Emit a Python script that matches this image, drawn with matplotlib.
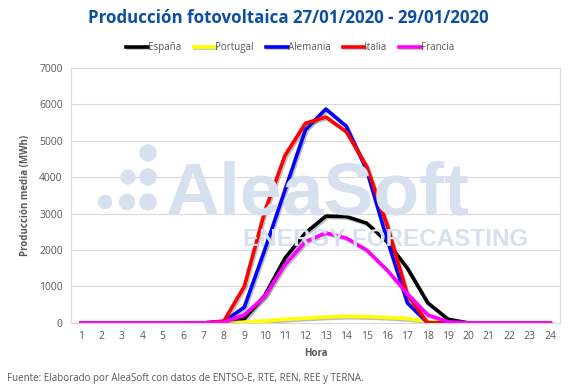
import matplotlib.pyplot as plt
import matplotlib.patheffects as pe
from matplotlib.patches import Circle
import numpy as np

plt.rcParams['font.family'] = ['Open Sans', 'DejaVu Sans']

horas = list(range(1, 25))
espana = [0, 0, 0, 0, 0, 0, 0, 0, 110, 750, 1780, 2470, 2930, 2920, 2740, 2230, 1500, 550, 100, 0, 0, 0, 0, 0]
portugal = [0, 0, 0, 0, 0, 0, 0, 0, 20, 50, 100, 130, 160, 180, 170, 150, 120, 40, 0, 0, 0, 0, 0, 0]
alemania = [0, 0, 0, 0, 0, 0, 0, 40, 430, 2000, 3650, 5300, 5870, 5400, 4200, 2300, 550, 0, 0, 0, 0, 0, 0, 0]
italia = [0, 0, 0, 0, 0, 0, 0, 50, 1000, 3050, 4600, 5480, 5650, 5250, 4300, 2700, 770, 0, 0, 0, 0, 0, 0, 0]
francia = [0, 0, 0, 0, 0, 0, 0, 20, 220, 720, 1600, 2230, 2470, 2330, 2000, 1450, 800, 220, 30, 0, 0, 0, 0, 0]

series = [("España", espana, "black"),
          ("Portugal", portugal, "#FFFF00"),
          ("Alemania", alemania, "#0000FF"),
          ("Italia", italia, "#FF0000"),
          ("Francia", francia, "#FF00FF")]

grey = "#595959"
marca = "#D6E0EE"
fig = plt.figure(figsize=(5.77, 3.9), dpi=100)
ax = fig.add_axes([0.123, 0.172, 0.848, 0.654])

# marca de agua (logo de puntos + texto)
fig.text(0.287, 0.449, "AleaSoft", fontsize=54, fontweight="bold", color=marca,
         family="Liberation Sans", ha="left", va="baseline", zorder=0)
fig.text(0.421, 0.369, "ENERGY FORECASTING", fontsize=17.5, fontweight="bold", color=marca,
         family="Liberation Sans", ha="left", va="baseline", zorder=0)
for (px, py, r) in [(148, 153, 8), (128, 177, 7), (148, 177, 8),
                    (105, 202, 6.5), (127, 202, 7.5), (148, 202, 8)]:
    fig.patches.append(Circle((px / 100, (390 - py) / 100), r / 100,
                              transform=fig.dpi_scale_trans, color=marca, zorder=0))

for nombre, valores, color in series:
    ax.plot(horas, valores, color=color, lw=2.6, label=nombre,
            path_effects=[pe.SimpleLineShadow(offset=(1, -1), shadow_color="#444444", alpha=0.35),
                          pe.Normal()])

ax.set_xlim(0.5, 24.5)
ax.set_ylim(0, 7000)
ax.set_xticks(horas)
ax.set_yticks(np.arange(0, 7001, 1000))
ax.patch.set_alpha(0)
ax.grid(axis="y", color="#D9D9D9", lw=0.8)
ax.set_axisbelow(True)
for s in ax.spines.values():
    s.set_color("#D9D9D9")
    s.set_linewidth(0.8)
ax.tick_params(length=0, labelsize=7.5, labelcolor=grey, pad=6)
ax.set_xlabel("Hora", fontsize=7, fontweight="bold", color=grey, labelpad=4)
ax.set_ylabel("Producción media (MWh)", fontsize=7, fontweight="bold", color=grey, labelpad=6)

fig.suptitle("Producción fotovoltaica 27/01/2020 - 29/01/2020", x=0.5, y=0.978,
             fontsize=12.2, fontweight="bold", color="#0B4EA2")
ax.legend(loc="lower center", bbox_to_anchor=(0.448, 1.0), ncol=5, frameon=False,
          fontsize=7, labelcolor=grey, handlelength=2.2, handletextpad=0.0,
          columnspacing=1.3, borderaxespad=1.1)

fig.text(0.012, 0.022, "Fuente: Elaborado por AleaSoft con datos de ENTSO-E, RTE, REN, REE y TERNA.",
         fontsize=7, color=grey)

fig.savefig("out.png", dpi=100)
